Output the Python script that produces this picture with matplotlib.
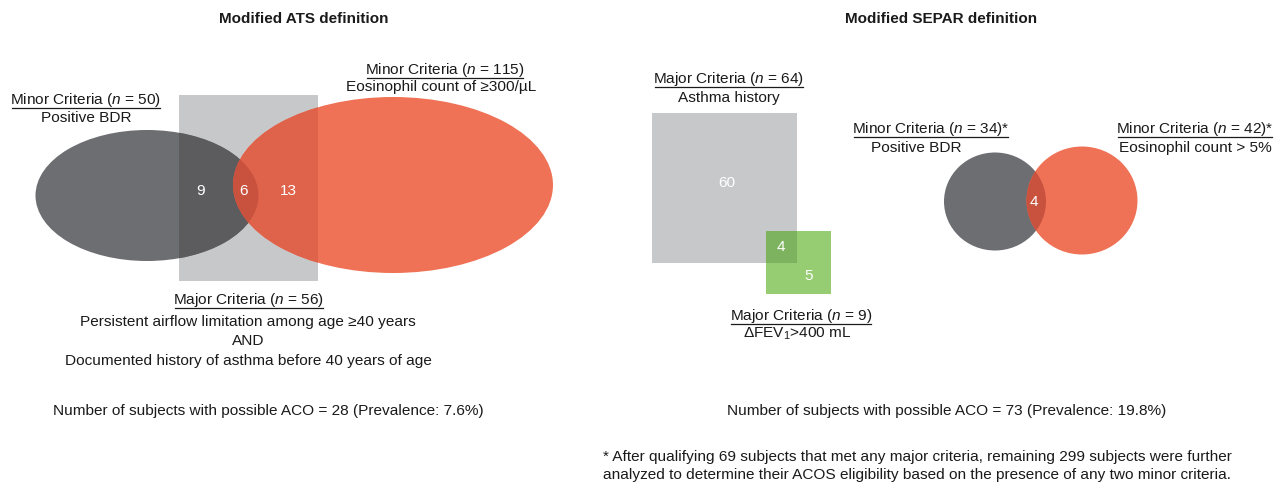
import matplotlib
matplotlib.use("Agg")
import matplotlib.pyplot as plt
from matplotlib.patches import Rectangle, Ellipse
from matplotlib.lines import Line2D

plt.rcParams['font.family'] = ['Liberation Sans', 'DejaVu Sans']
plt.rcParams['mathtext.fontset'] = 'custom'
plt.rcParams['mathtext.rm'] = 'Liberation Sans'
plt.rcParams['mathtext.it'] = 'Liberation Sans:italic'
plt.rcParams['mathtext.bf'] = 'Liberation Sans:bold'

# ---------------- data ----------------
titles = ["Modified ATS definition", "Modified SEPAR definition"]

ats_kind = ["Major", "Minor", "Minor"]
ats_n = [56, 50, 115]
ats_desc = [["Persistent airflow limitation among age \u226540 years", "AND",
             "Documented history of asthma before 40 years of age"],
            ["Positive BDR"],
            ["Eosinophil count of \u2265300/\u00b5L"]]
ats_region_counts = [9, 6, 13]          # major+BDR, all three, major+eos
ats_aco, ats_prev = 28, 7.6

separ_kind = ["Major", "Major", "Minor", "Minor"]
separ_n = [64, 9, 34, 42]
separ_star = ["", "", "*", "*"]
separ_desc = ["Asthma history", "\u0394FEV$_1$>400 mL", "Positive BDR", "Eosinophil count > 5%"]
separ_region_counts = [60, 4, 5, 4]     # asthma only, both major, FEV only, both minor
separ_aco, separ_prev = 73, 19.8

footnote = ["* After qualifying 69 subjects that met any major criteria, remaining 299 subjects were further",
            "analyzed to determine their ACOS eligibility based on the presence of any two minor criteria."]

# ---------------- colours ----------------
C_GRAY = "#c7c8ca"
C_DARK = "#6d6e72"
C_DARK_OV = "#5c5c5f"
C_ORANGE = "#f07256"
C_ORANGE_OV = "#df634b"
C_LENS = "#c9523f"
C_GREEN = "#96cc72"
C_GREEN_OV = "#7db35e"
TXT = "#1a1a1a"

W, H = 1286, 483
fig = plt.figure(figsize=(W / 100, H / 100), dpi=100)
ax = fig.add_axes([0, 0, 1, 1])
ax.set_xlim(0, W)
ax.set_ylim(H, 0)
ax.axis('off')

FS = 11.1
underlines = []


def crit(x, y, kind, n, star="", size=FS):
    t = ax.text(x, y, f"{kind} Criteria ($n$ = {n}){star}", ha='center', va='center',
                fontsize=size, color=TXT)
    underlines.append(t)
    return t


def txt(x, y, s, size=FS, **kw):
    return ax.text(x, y, s, ha='center', va='center', fontsize=size, color=TXT, **kw)


# ---------------- left panel (ATS) ----------------
rect = Rectangle((179, 95), 139, 186, facecolor=C_GRAY, edgecolor='none', zorder=1)
ax.add_patch(rect)
dark = Ellipse((147, 195.5), 223, 131, facecolor=C_DARK, edgecolor='none', zorder=2)
ax.add_patch(dark)
orange = Ellipse((393, 185), 320, 176, facecolor=C_ORANGE, edgecolor='none', zorder=3)
ax.add_patch(orange)
ov1 = Rectangle((179, 95), 139, 186, facecolor=C_DARK_OV, edgecolor='none', zorder=4)
ax.add_patch(ov1)
ov1.set_clip_path(dark)
ov2 = Rectangle((179, 95), 139, 186, facecolor=C_ORANGE_OV, edgecolor='none', zorder=5)
ax.add_patch(ov2)
ov2.set_clip_path(orange)
lens = Ellipse((147, 195.5), 223, 131, facecolor=C_LENS, edgecolor='none', zorder=6)
ax.add_patch(lens)
lens.set_clip_path(orange)

for x, c in zip([201, 244, 288], ats_region_counts):
    ax.text(x, 191, str(c), ha='center', va='center', fontsize=FS, color='white', zorder=10)

txt(304, 19, titles[0], size=11, fontweight='bold')
crit(445, 70, ats_kind[2], ats_n[2])
txt(441, 87, ats_desc[2][0])
crit(86, 100, ats_kind[1], ats_n[1])
txt(86, 118, ats_desc[1][0])
crit(249, 300, ats_kind[0], ats_n[0])
for y, s in zip([322, 341, 361], ats_desc[0]):
    txt(248, y, s)
txt(268, 411, f"Number of subjects with possible ACO = {ats_aco} (Prevalence: {ats_prev}%)")

# ---------------- right panel (SEPAR) ----------------
sq = Rectangle((652, 113), 145, 150, facecolor=C_GRAY, edgecolor='none', zorder=1)
ax.add_patch(sq)
gr = Rectangle((766, 231), 65, 63, facecolor=C_GREEN, edgecolor='none', zorder=2)
ax.add_patch(gr)
grov = Rectangle((766, 231), 65, 63, facecolor=C_GREEN_OV, edgecolor='none', zorder=3)
ax.add_patch(grov)
grov.set_clip_path(sq)

dc = Ellipse((995, 201.5), 102, 98, facecolor=C_DARK, edgecolor='none', zorder=2)
ax.add_patch(dc)
oc = Ellipse((1082, 200.5), 111, 108, facecolor=C_ORANGE, edgecolor='none', zorder=3)
ax.add_patch(oc)
lc = Ellipse((995, 201.5), 102, 98, facecolor=C_LENS, edgecolor='none', zorder=4)
ax.add_patch(lc)
lc.set_clip_path(oc)

for (x, y), c in zip([(727, 183), (781, 247), (809, 276), (1034, 202)], separ_region_counts):
    ax.text(x, y, str(c), ha='center', va='center', fontsize=FS, color='white', zorder=10)

txt(941, 19, titles[1], size=11, fontweight='bold')
crit(729, 79, separ_kind[0], separ_n[0], separ_star[0])
txt(729, 98, separ_desc[0])
crit(801, 316, separ_kind[1], separ_n[1], separ_star[1])
txt(797, 334, separ_desc[1])
crit(931, 129, separ_kind[2], separ_n[2], separ_star[2])
txt(916, 148, separ_desc[2])
crit(1195, 129, separ_kind[3], separ_n[3], separ_star[3])
txt(1195, 148, separ_desc[3])
txt(947, 411, f"Number of subjects with possible ACO = {separ_aco} (Prevalence: {separ_prev}%)")
for y, s in zip([457, 475], footnote):
    ax.text(603, y, s, ha='left', va='center', fontsize=FS, color=TXT)

# underlines
fig.canvas.draw()
r = fig.canvas.get_renderer()
inv = ax.transData.inverted()
for t in underlines:
    bb = t.get_window_extent(r)
    (x0, y0), (x1, y1) = inv.transform([(bb.x0, bb.y0), (bb.x1, bb.y1)])
    ax.add_line(Line2D([x0 + 1.5, x1 - 1.5], [y0 - 0.8, y0 - 0.8], color=TXT, lw=0.9))

fig.savefig("out.png", dpi=100)
